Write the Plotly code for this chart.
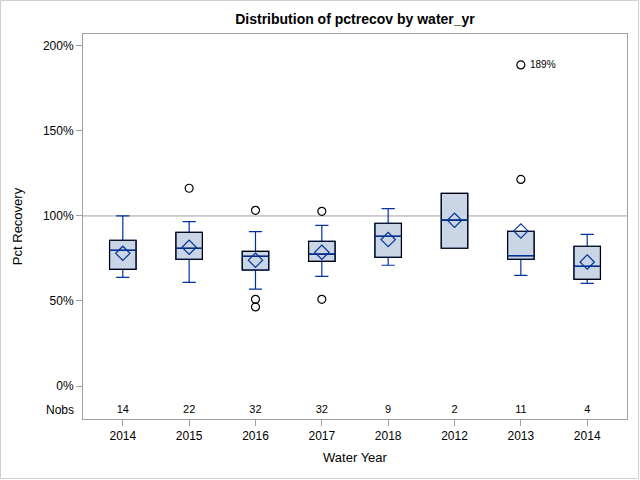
import plotly.graph_objects as go

# ---- data ----
categories = ["2014", "2015", "2016", "2017", "2018", "2012", "2013", "2014"]
nobs = [14, 22, 32, 32, 9, 2, 11, 4]
q1 = [68.6, 74.5, 68.2, 73.3, 75.7, 81.0, 74.5, 62.7]
median = [79.8, 81.0, 76.3, 77.5, 88.0, 97.5, 76.7, 70.4]
q3 = [85.7, 90.4, 79.2, 85.1, 95.7, 113.3, 91.0, 82.2]
lower_whisker = [63.9, 61.0, 57.0, 64.5, 71.0, 81.0, 65.1, 60.4]
upper_whisker = [100.0, 96.7, 90.8, 94.5, 104.3, 113.3, 91.0, 89.2]
means = [78.0, 81.6, 74.0, 78.6, 86.1, 97.5, 91.2, 72.9]
outlier_cat = [1, 2, 2, 2, 3, 3, 6, 6]
outlier_val = [116.3, 103.3, 51.0, 46.5, 102.7, 51.0, 121.5, 188.8]
labelled_outlier_cat = [6]
labelled_outlier_val = [188.8]
labelled_outlier_text = ["189%"]
y_ticks = [0, 50, 100, 150, 200]

FONT = "Liberation Sans, Arial, sans-serif"
BLUE = "#0033A0"
FILL = "#CAD5E5"
GRAY = "#A0A0A0"

pos = list(range(len(categories)))

fig = go.Figure()

# full box (fill, blue whiskers)
fig.add_trace(go.Box(
    x=pos, q1=q1, median=median, q3=q3,
    lowerfence=lower_whisker, upperfence=upper_whisker,
    width=0.4, whiskerwidth=0.5,
    fillcolor=FILL, line=dict(color=BLUE, width=1.2),
    showlegend=False, hoverinfo="skip",
))
# black box outline on top (transparent fill)
fig.add_trace(go.Box(
    x=pos, q1=q1, median=median, q3=q3,
    lowerfence=q1, upperfence=q3,
    width=0.4, whiskerwidth=0,
    fillcolor="rgba(0,0,0,0)", line=dict(color="black", width=1.1),
    showlegend=False, hoverinfo="skip",
))
# blue median line on top
fig.add_trace(go.Box(
    x=pos, q1=median, median=median, q3=median,
    lowerfence=median, upperfence=median,
    width=0.4, whiskerwidth=0,
    fillcolor="rgba(0,0,0,0)", line=dict(color=BLUE, width=1.2),
    showlegend=False, hoverinfo="skip",
))
# means
fig.add_trace(go.Scatter(
    x=pos, y=means, mode="markers",
    marker=dict(symbol="diamond-open", size=11, color=BLUE, line=dict(width=1.2, color=BLUE)),
    showlegend=False, hoverinfo="skip",
))
# outliers
fig.add_trace(go.Scatter(
    x=outlier_cat, y=outlier_val, mode="markers",
    marker=dict(symbol="circle-open", size=8, color="black", line=dict(width=1.2, color="black")),
    showlegend=False, hoverinfo="skip",
))
for cx, cy, t in zip(labelled_outlier_cat, labelled_outlier_val, labelled_outlier_text):
    fig.add_annotation(x=cx, y=cy, text=t, showarrow=False, xanchor="left", yanchor="middle",
                       xshift=7, font=dict(family=FONT, size=10, color="black"))
# Nobs row
fig.add_trace(go.Scatter(
    x=pos, y=[-14.0] * len(pos), mode="text",
    text=[str(n) for n in nobs], textposition="middle center",
    textfont=dict(family=FONT, size=11, color="black"),
    showlegend=False, hoverinfo="skip",
))

# reference line at 100%
fig.add_hline(y=100, line=dict(color=GRAY, width=1), layer="below")

W, H = 640, 480
ml, mr, mt, mb = 83, 13, 34, 61
pw, ph = W - ml - mr, H - mt - mb

fig.add_annotation(
    xref="paper", yref="y", x=-0.012, y=-14.0, text="Nobs",
    showarrow=False, xanchor="right", yanchor="middle",
    font=dict(family=FONT, size=12, color="black"),
)
# outer image border
fig.add_shape(
    type="rect", xref="paper", yref="paper",
    x0=(0.5 - ml) / pw, x1=(W - 1.5 - ml) / pw,
    y0=(H - mb - (H - 1.5)) / ph, y1=(H - mb - 0.5) / ph,
    line=dict(color="#D0D0D0", width=1), fillcolor="rgba(0,0,0,0)", layer="below",
)

fig.update_layout(
    width=W, height=H,
    margin=dict(l=ml, r=mr, t=mt, b=mb, autoexpand=False),
    paper_bgcolor="white", plot_bgcolor="white",
    boxmode="overlay",
    title=dict(text="<b>Distribution of pctrecov by water_yr</b>", x=(ml + pw / 2) / W, xanchor="center",
               y=1 - 19 / H, yanchor="middle", automargin=False,
               font=dict(family=FONT, size=14, color="black")),
    font=dict(family=FONT, size=12, color="black"),
)
fig.update_xaxes(
    range=[-0.6, 7.6], tickvals=pos, ticktext=categories,
    ticks="outside", ticklen=6, tickcolor=GRAY, automargin=False,
    showline=True, linecolor=GRAY, linewidth=1, mirror=True,
    showgrid=False, zeroline=False,
    title=dict(text="Water Year", font=dict(family=FONT, size=13), standoff=10),
    tickfont=dict(family=FONT, size=12),
)
fig.update_yaxes(
    range=[-19.4, 207], tickvals=y_ticks, ticktext=[f"{v}%" for v in y_ticks],
    ticks="outside", ticklen=6, tickcolor=GRAY, automargin=False,
    showline=True, linecolor=GRAY, linewidth=1, mirror=True,
    showgrid=False, zeroline=False,
    title=dict(text="Pct Recovery", font=dict(family=FONT, size=13), standoff=17),
    tickfont=dict(family=FONT, size=12),
)

fig.write_html(
    "out.html",
    config={"displayModeBar": False},
    post_script="document.body.style.margin='0';document.body.style.padding='0';"
                "document.documentElement.style.overflow='hidden';",
)
